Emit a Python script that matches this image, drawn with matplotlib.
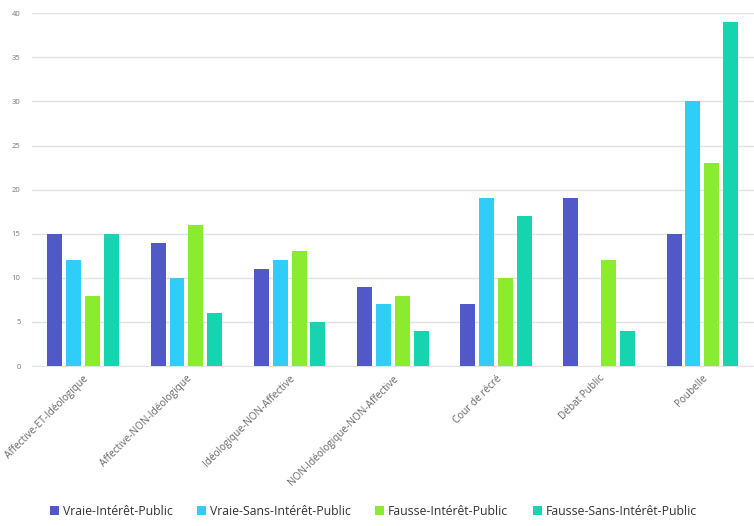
import matplotlib
matplotlib.use("Agg")
import matplotlib.pyplot as plt
import numpy as np
from matplotlib.patches import Patch

plt.rcParams['font.family'] = ['Open Sans', 'DejaVu Sans']

categories = ["Affective-ET-Idéologique", "Affective-NON-Idéologique",
              "Idéologique-NON-Affective", "NON-Idéologique-NON-Affective",
              "Cour de récré", "Débat Public", "Poubelle"]
series_names = ["Vraie-Intérêt-Public", "Vraie-Sans-Intérêt-Public",
                "Fausse-Intérêt-Public", "Fausse-Sans-Intérêt-Public"]
vraie_interet = [15, 14, 11, 9, 7, 19, 15]
vraie_sans = [12, 10, 12, 7, 19, 0, 30]
fausse_interet = [8, 16, 13, 8, 10, 12, 23]
fausse_sans = [15, 6, 5, 4, 17, 4, 39]
colors = ["#5158C8", "#2FCDF8", "#8BEB2F", "#17D4B1"]

series = [vraie_interet, vraie_sans, fausse_interet, fausse_sans]

fig = plt.figure(figsize=(7.54, 5.26), dpi=100)
ax = fig.add_axes([0.042, 0.304, 0.958, 0.671])

x = np.arange(len(categories))
width = 0.145
step = 0.183
for i, (vals, c) in enumerate(zip(series, colors)):
    ax.bar(x + (i - 1.5) * step, vals, width=width, color=c, zorder=3)

ax.set_xlim(-0.5, len(categories) - 0.5)
ax.set_ylim(0, 40)
ax.set_yticks(range(0, 41, 5))
ax.yaxis.grid(True, color="#E3E3E3", linewidth=1, zorder=0)
ax.tick_params(axis='y', length=0, labelsize=5.5, labelcolor="#777777", pad=8)
ax.tick_params(axis='x', length=0, labelsize=7.2, labelcolor="#666666", pad=5)
ax.set_xticks(x)
ax.set_xticklabels(categories, rotation=45, ha='right', rotation_mode='anchor')
for s in ["top", "right", "left"]:
    ax.spines[s].set_visible(False)
ax.spines["bottom"].set_color("#E3E3E3")

handles = [Patch(facecolor=c, label=n) for c, n in zip(colors, series_names)]
fig.legend(handles=handles, loc='center', bbox_to_anchor=(0.495, 0.028), ncol=4,
           frameon=False, fontsize=8.8, handlelength=0.75, handleheight=0.75,
           handletextpad=0.3, columnspacing=2.0, labelcolor="#333333")

fig.savefig("out.png", dpi=100)
